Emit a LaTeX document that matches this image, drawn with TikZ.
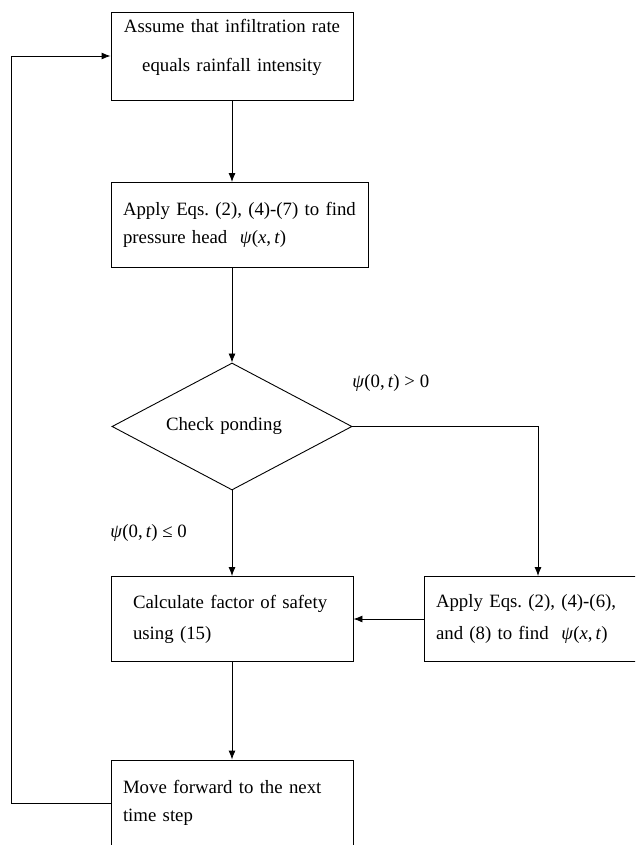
\documentclass[tikz,border=0pt]{standalone}
\usepackage{fontspec}
\setmainfont{Liberation Serif}
\usetikzlibrary{shapes.geometric,arrows.meta,positioning}
\newcommand{\psiat}[1]{\textit{ψ}(#1)}
\frenchspacing

\begin{document}
\begin{tikzpicture}[x=1pt,y=-1pt,node distance=5cm,on grid,
    >={Latex[length=9pt,width=7pt]},line width=.9pt,
    box/.style={draw,rectangle,inner sep=0pt,align=left},
    lbl/.style={anchor=base west,inner sep=0pt,font=\fontsize{18.8}{22}\selectfont}]
  \clip (0,0) rectangle (635,845);
  \node[box,minimum width=242pt,minimum height=88pt,text width=230pt,align=center,
        font=\fontsize{18.8}{39}\selectfont,text depth=60pt] (assume) at (232,56)
        {Assume that infiltration rate\\equals rainfall intensity};
  \node[box,minimum width=257pt,minimum height=85pt,text width=233pt,
        font=\fontsize{18.8}{28}\selectfont] (find) at (239.5,225)
        {Apply Eqs. (2), (4)-(7) to find\\pressure head~~\psiat{\textit{x},\,\textit{t}}};
  \node[diamond,draw,aspect=1.9,inner sep=0pt,minimum width=240pt,minimum height=127pt,
        text width=132pt,align=left,font=\fontsize{18.8}{22}\selectfont] (pond) at (232,426.5)
        {Check ponding};
  \node[box,minimum width=242pt,minimum height=85pt,text width=198pt,
        font=\fontsize{18.8}{31}\selectfont] (safety) [below=192.5pt of pond]
        {Calculate factor of safety\\using (15)};
  \node[box,minimum width=228pt,minimum height=85pt,text width=204pt,
        font=\fontsize{18.8}{32}\selectfont] (other) [right=306pt of safety]
        {Apply Eqs. (2), (4)-(6),\\and (8) to find~~\psiat{\textit{x},\,\textit{t}}};
  \node[box,minimum width=242pt,minimum height=86pt,text width=218pt,
        font=\fontsize{18.8}{28}\selectfont] (next) [below=184pt of safety]
        {Move forward to the next\\time step};
  \node[lbl] (wet) at (352,387) {\psiat{0,\,\textit{t}} > 0};
  \node[lbl] (dry) at (110,537) {\psiat{0,\,\textit{t}} ≤ 0};
  \coordinate (back) at (11,0);
  \path[->]
    (assume) edge (assume |- find.north)
    (pond |- find.south) edge (pond)
    (pond) edge (safety)
    (other) edge (safety)
    (safety) edge (next)
    ;
  \draw[->] (pond.east) -| (other.north);
  \draw[->] (next.west) -- (next.west -| back) |- (assume.west);
\end{tikzpicture}
\end{document}
